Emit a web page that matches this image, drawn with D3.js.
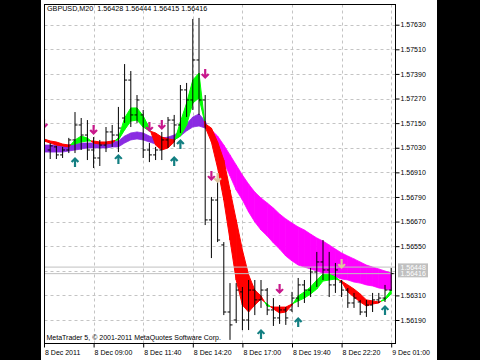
<!DOCTYPE html>
<html><head><meta charset="utf-8">
<script src="https://cdn.jsdelivr.net/npm/d3@7"></script>
<style>
html,body{margin:0;padding:0;background:#000;}
svg{display:block;}
text{font-family:"Liberation Sans",Arial,sans-serif;}
</style></head><body>
<svg id="c" width="480" height="360"></svg>
<script>
// ---------- data ----------
const symbol = "GBPUSD";
const timeframe = "M20";
const headerOHLC = ["1.56428", "1.56444", "1.56415", "1.56416"];
const askPrice = 1.56448;
const bidPrice = 1.56416;

const xTickIdx = [0, 8, 16, 24, 32, 40, 48, 56];
const xTickLabels = ["8 Dec 2011", "8 Dec 09:00", "8 Dec 11:40", "8 Dec 14:20", "8 Dec 17:00", "8 Dec 19:40", "8 Dec 22:20", "9 Dec 01:00"];
const yGridTicks = [1.57630, 1.57510, 1.57390, 1.57270, 1.57150, 1.57030, 1.56910, 1.56790, 1.56670, 1.56550, 1.56430, 1.56310, 1.56190];
const yLabelTicks = [1.57630, 1.57510, 1.57390, 1.57270, 1.57150, 1.57030, 1.56910, 1.56790, 1.56670, 1.56550, 1.56310, 1.56190];

const opens = [null,1.57019,1.57034,1.56995,1.57019,1.57068,1.57141,1.57092,1.57019,1.56980,1.57043,1.57107,1.57092,1.57175,1.57360,1.57190,1.57190,1.57019,1.56995,1.57019,1.57068,1.57165,1.57141,1.57312,1.57263,1.57458,1.57263,1.56678,1.56775,1.56556,1.56229,1.56190,1.56327,1.56190,1.56336,1.56288,1.56336,1.56239,1.56200,1.56239,1.56239,1.56297,1.56361,1.56336,1.56424,1.56473,1.56434,1.56361,1.56375,1.56336,1.56273,1.56278,1.56229,1.56263,1.56288,1.56297,1.56336];
const highs = [null,1.57053,1.57039,1.57034,1.57078,1.57204,1.57175,1.57165,1.57082,1.57068,1.57131,1.57141,1.57229,1.57438,1.57404,1.57287,1.57214,1.57053,1.57034,1.57107,1.57180,1.57190,1.57336,1.57346,1.57658,1.57663,1.57287,1.56790,1.56897,1.56570,1.56370,1.56370,1.56351,1.56385,1.56385,1.56385,1.56346,1.56297,1.56263,1.56253,1.56327,1.56395,1.56385,1.56444,1.56522,1.56580,1.56522,1.56468,1.56385,1.56346,1.56322,1.56288,1.56288,1.56322,1.56322,1.56361,1.56444];
const lows = [null,1.56975,1.56975,1.56980,1.57004,1.57004,1.57019,1.56970,1.56931,1.56941,1.57009,1.57034,1.57009,1.57151,1.57131,1.57151,1.56980,1.56960,1.56970,1.56970,1.57029,1.57034,1.57102,1.57180,1.57214,1.57190,1.56653,1.56492,1.56570,1.56214,1.56093,1.56175,1.56141,1.56141,1.56214,1.56249,1.56214,1.56161,1.56171,1.56166,1.56229,1.56253,1.56273,1.56302,1.56351,1.56385,1.56302,1.56322,1.56302,1.56249,1.56249,1.56214,1.56205,1.56229,1.56273,1.56278,1.56332];
const closes = [null,1.57039,1.56995,1.57019,1.57068,1.57141,1.57092,1.57019,1.56980,1.57043,1.57107,1.57092,1.57126,1.57360,1.57190,1.57263,1.57019,1.56995,1.57019,1.57068,1.57165,1.57141,1.57312,1.57263,1.57458,1.57263,1.56678,1.56775,1.56580,1.56229,1.56166,1.56336,1.56190,1.56336,1.56288,1.56336,1.56239,1.56200,1.56239,1.56200,1.56297,1.56361,1.56336,1.56424,1.56473,1.56434,1.56361,1.56434,1.56336,1.56273,1.56297,1.56229,1.56263,1.56288,1.56297,1.56336,1.56416];

const fastA = [1.57063,1.57053,1.57043,1.57039,1.57034,1.57068,1.57087,1.57077,1.57053,1.57048,1.57048,1.57053,1.57077,1.57175,1.57224,1.57224,1.57185,1.57126,1.57043,1.57019,1.57029,1.57058,1.57156,1.57248,1.57360,1.57394,1.57131,1.57058,1.56931,1.56775,1.56580,1.56385,1.56263,1.56229,1.56263,1.56292,1.56268,1.56244,1.56224,1.56229,1.56263,1.56307,1.56327,1.56351,1.56385,1.56414,1.56414,1.56400,1.56375,1.56327,1.56302,1.56278,1.56258,1.56268,1.56273,1.56297,1.56336];
const fastB = [1.57073,1.57063,1.57058,1.57048,1.57043,1.57048,1.57058,1.57063,1.57063,1.57058,1.57058,1.57063,1.57068,1.57117,1.57160,1.57165,1.57131,1.57112,1.57102,1.57082,1.57073,1.57068,1.57087,1.57141,1.57248,1.57273,1.57146,1.57126,1.57058,1.56970,1.56824,1.56678,1.56531,1.56410,1.56336,1.56307,1.56258,1.56253,1.56253,1.56253,1.56268,1.56283,1.56297,1.56317,1.56341,1.56380,1.56385,1.56390,1.56380,1.56361,1.56341,1.56317,1.56288,1.56283,1.56278,1.56288,1.56317];
const slowA = [1.57043,1.57043,1.57043,1.57043,1.57043,1.57048,1.57053,1.57053,1.57053,1.57053,1.57053,1.57058,1.57063,1.57087,1.57102,1.57107,1.57102,1.57087,1.57077,1.57077,1.57082,1.57092,1.57112,1.57146,1.57180,1.57195,1.57160,1.57092,1.57029,1.56960,1.56892,1.56824,1.56775,1.56717,1.56668,1.56629,1.56600,1.56566,1.56536,1.56502,1.56478,1.56458,1.56448,1.56439,1.56429,1.56419,1.56410,1.56400,1.56390,1.56385,1.56375,1.56370,1.56361,1.56356,1.56346,1.56341,1.56336];
const slowB = [1.57009,1.57009,1.57009,1.57009,1.57014,1.57019,1.57024,1.57029,1.57029,1.57029,1.57029,1.57034,1.57034,1.57053,1.57068,1.57073,1.57068,1.57058,1.57048,1.57048,1.57058,1.57068,1.57087,1.57112,1.57131,1.57136,1.57126,1.57117,1.57087,1.57043,1.56995,1.56946,1.56897,1.56853,1.56814,1.56785,1.56761,1.56736,1.56707,1.56683,1.56663,1.56644,1.56629,1.56609,1.56590,1.56575,1.56556,1.56536,1.56517,1.56502,1.56488,1.56473,1.56458,1.56448,1.56439,1.56429,1.56419];

const upArrowIdx = [5, 12, 21, 22, 35, 41, 55];
const upArrowPrice = [1.56960, 1.56975, 1.56965, 1.57048, 1.56122, 1.56180, 1.56239];
const downArrowIdx = [0, 8, 17, 19, 26, 27, 38];
const downArrowPrice = [1.57146, 1.57117, 1.57131, 1.57141, 1.57390, 1.56892, 1.56341];
const paleArrowIdx = [28, 48];
const paleArrowPrice = [1.56882, 1.56463];

const copyright = "MetaTrader 5, © 2001-2011 MetaQuotes Software Corp.";

// ---------- drawing ----------
const W = 480, H = 360;
const svg = d3.select("#c");
svg.append("rect").attr("width", W).attr("height", H).attr("fill", "#000");
svg.append("rect").attr("x", 41).attr("y", 0).attr("width", 396).attr("height", H).attr("fill", "#fff");

const P = {l: 44.5, r: 395.5, t: 4.5, b: 343.5};
const x = d3.scaleLinear().domain([0, 56]).range([44, 391.2]);
const y = d3.scaleLinear().domain([1.56190, 1.57630]).range([320, 24.7]);

svg.append("clipPath").attr("id", "clip").append("rect")
  .attr("x", P.l).attr("y", P.t).attr("width", P.r - P.l).attr("height", P.b - P.t);

const font = "7px";

// grid
const grid = svg.append("g").attr("clip-path", "url(#clip)");
grid.selectAll("line.h").data(yGridTicks).join("line")
  .attr("x1", P.l).attr("x2", P.r)
  .attr("y1", d => Math.round(y(d)) + 0.5).attr("y2", d => Math.round(y(d)) + 0.5)
  .attr("stroke", "#c4c4c4").attr("stroke-dasharray", "3,3");
grid.selectAll("line.v").data(xTickIdx.slice(1)).join("line")
  .attr("x1", d => Math.round(x(d)) + 0.5).attr("x2", d => Math.round(x(d)) + 0.5)
  .attr("y1", P.t).attr("y2", P.b)
  .attr("stroke", "#c4c4c4").attr("stroke-dasharray", "3,3");

const plot = svg.append("g").attr("clip-path", "url(#clip)");

function band(A, B, upColor, downColor, strokeW) {
  const g = plot.append("g");
  const polys = [];
  for (let i = 0; i < A.length - 1; i++) {
    const d0 = A[i] - B[i], d1 = A[i + 1] - B[i + 1];
    if (d0 * d1 < 0) {
      const t = d0 / (d0 - d1);
      const xm = i + t, ym = A[i] + (A[i + 1] - A[i]) * t;
      polys.push({pts: [[i, A[i]], [xm, ym], [i, B[i]]], up: d0 > 0});
      polys.push({pts: [[xm, ym], [i + 1, A[i + 1]], [i + 1, B[i + 1]]], up: d1 > 0});
    } else {
      polys.push({pts: [[i, A[i]], [i + 1, A[i + 1]], [i + 1, B[i + 1]], [i, B[i]]], up: (d0 + d1) > 0});
    }
  }
  g.selectAll("path").data(polys).join("path")
    .attr("d", p => "M" + p.pts.map(q => x(q[0]) + "," + y(q[1])).join("L") + "Z")
    .attr("fill", p => p.up ? upColor : downColor)
    .attr("stroke", p => p.up ? upColor : downColor)
    .attr("stroke-width", strokeW).attr("stroke-linejoin", "round");
}
band(slowA, slowB, "#8a2be2", "#ff00ff", 0.8);
band(fastA, fastB, "#00ff00", "#ff0000", 1);

// bid / ask lines
plot.selectAll("line.price").data([askPrice, bidPrice]).join("line")
  .attr("x1", P.l).attr("x2", P.r)
  .attr("y1", d => y(d)).attr("y2", d => y(d))
  .attr("stroke", "#c0c0c0").attr("stroke-width", 1);

// OHLC bars
const bars = d3.range(opens.length).filter(i => opens[i] !== null);
const bg = plot.append("g").attr("stroke", "#000").attr("stroke-width", 1);
bars.forEach(i => {
  const cx = x(i);
  bg.append("line").attr("x1", cx).attr("x2", cx).attr("y1", y(highs[i])).attr("y2", y(lows[i]));
  bg.append("line").attr("x1", cx - 2.5).attr("x2", cx).attr("y1", y(opens[i])).attr("y2", y(opens[i]));
  bg.append("line").attr("x1", cx).attr("x2", cx + 2.5).attr("y1", y(closes[i])).attr("y2", y(closes[i]));
});

// arrows
const upPath = "M0,-5L4.2,-0.8L2.6,0.6L1.1,-0.9L1.1,5L-1.1,5L-1.1,-0.9L-2.6,0.6L-4.2,-0.8Z";
const downPath = "M0,5L4.2,0.8L2.6,-0.6L1.1,0.9L1.1,-5L-1.1,-5L-1.1,0.9L-2.6,-0.6L-4.2,0.8Z";
plot.selectAll("path.up").data(upArrowIdx).join("path")
  .attr("d", upPath).attr("fill", "#137f82")
  .attr("transform", (d, k) => `translate(${x(d)},${y(upArrowPrice[k])})`);
plot.selectAll("path.dn").data(downArrowIdx).join("path")
  .attr("d", downPath).attr("fill", "#c8188c")
  .attr("transform", (d, k) => `translate(${x(d)},${y(downArrowPrice[k])})`);
plot.selectAll("path.pale").data(paleArrowIdx).join("path")
  .attr("d", downPath).attr("fill", "#dcc69c")
  .attr("transform", (d, k) => `translate(${x(d)},${y(paleArrowPrice[k])})`);

// frame
svg.append("rect").attr("x", P.l).attr("y", P.t).attr("width", P.r - P.l).attr("height", P.b - P.t)
  .attr("fill", "none").attr("stroke", "#000");

// y axis
const yAxis = svg.append("g").attr("transform", `translate(${P.r},0)`)
  .call(d3.axisRight(y).tickValues(yLabelTicks).tickFormat(d3.format(".5f")).tickSize(4).tickPadding(1));
yAxis.select(".domain").remove();
yAxis.selectAll("text").attr("font-size", font).attr("font-family", "Liberation Sans, Arial, sans-serif").attr("fill", "#000");
yAxis.selectAll("line").attr("stroke", "#000");

// x axis
const xAxis = svg.append("g").attr("transform", `translate(0,${P.b})`)
  .call(d3.axisBottom(x).tickValues(xTickIdx).tickFormat((d, i) => xTickLabels[i]).tickSize(4));
xAxis.select(".domain").remove();
xAxis.selectAll("line").attr("stroke", "#000");
xAxis.selectAll("text").attr("font-size", font).attr("font-family", "Liberation Sans, Arial, sans-serif")
  .attr("fill", "#000").attr("text-anchor", "start").attr("x", 0.5).attr("y", 6.5);

// price labels on the right
const pl = svg.append("g");
[askPrice, bidPrice].forEach((p, k) => {
  const cy = y(p);
  pl.append("rect").attr("x", 398).attr("y", cy - 3.7).attr("width", 30).attr("height", 7.4).attr("fill", "#c0c0c0");
  pl.append("text").attr("x", 400.5).attr("y", cy + 2.5).attr("font-size", font).attr("fill", "#fff").text(d3.format(".5f")(p));
});

// header
svg.append("text").attr("x", 47).attr("y", 11).attr("font-size", "7.2px").attr("fill", "#000")
  .style("white-space", "pre").text(`${symbol},${timeframe}  ${headerOHLC.join(" ")}`);

// copyright
svg.append("text").attr("x", 46.5).attr("y", 340).attr("font-size", font).attr("fill", "#000").text(copyright);
</script>
</body></html>
